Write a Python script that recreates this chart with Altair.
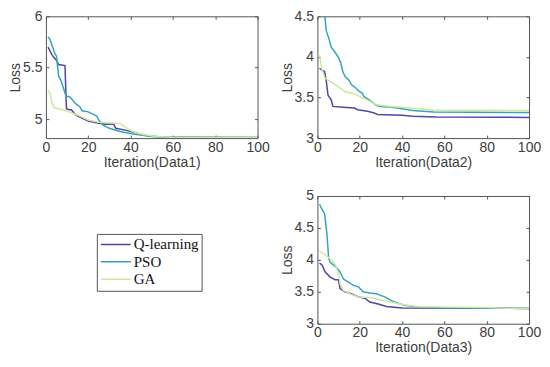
import altair as alt
import pandas as pd

methods = ["Q-learning", "PSO", "GA"]
colors = ["#5046a6", "#35a6b8", "#cfe8a0"]

# ---- Data1 ----
d1_q_it = [1, 3, 5, 6, 9, 9.7, 11, 12, 14, 16, 20, 25, 28, 32, 33, 38, 42, 45, 49, 55, 65, 100]
d1_q_v = [5.70, 5.62, 5.57, 5.53, 5.52, 5.10, 5.09, 5.09, 5.04, 5.02, 4.98, 4.96, 4.95, 4.95, 4.91, 4.89, 4.87, 4.85, 4.835, 4.826, 4.822, 4.82]
d1_p_it = [1, 2, 4, 5, 6, 7, 8, 9.5, 11, 12, 14, 16, 17, 20, 22, 24, 25, 27, 30, 35, 40, 43, 50, 60, 100]
d1_p_v = [5.80, 5.77, 5.65, 5.61, 5.42, 5.38, 5.32, 5.22, 5.22, 5.20, 5.15, 5.12, 5.08, 5.07, 5.05, 5.03, 4.99, 4.94, 4.91, 4.88, 4.86, 4.85, 4.83, 4.822, 4.82]
d1_g_it = [1, 2, 3, 4, 8, 12, 16, 20, 25, 30, 35, 37, 39, 42, 46, 52, 60, 100]
d1_g_v = [5.28, 5.25, 5.15, 5.11, 5.09, 5.06, 5.03, 4.99, 4.97, 4.965, 4.955, 4.93, 4.90, 4.87, 4.85, 4.83, 4.822, 4.82]

# ---- Data2 ----
d2_q_it = [1, 2, 3.4, 4.2, 5, 6.5, 7.3, 12, 17.5, 19, 23.7, 26.8, 28.3, 40, 45, 56, 100]
d2_q_v = [3.86, 3.84, 3.82, 3.70, 3.53, 3.47, 3.39, 3.38, 3.37, 3.35, 3.33, 3.31, 3.29, 3.28, 3.27, 3.26, 3.255]
d2_p_it = [1, 3.5, 4.2, 5.5, 6.5, 8, 10, 11, 12, 13, 15, 16, 18, 20, 21, 22, 24, 26, 28, 30, 35, 40, 45, 50, 55, 100]
d2_p_v = [4.5, 4.5, 4.32, 4.22, 4.12, 4.07, 3.99, 3.93, 3.82, 3.76, 3.71, 3.66, 3.62, 3.57, 3.56, 3.51, 3.48, 3.44, 3.40, 3.39, 3.38, 3.36, 3.34, 3.33, 3.32, 3.315]
d2_g_it = [1, 2, 3.5, 6, 10, 13, 17, 22, 25, 28, 34, 40, 48, 55, 100]
d2_g_v = [4.02, 3.86, 3.74, 3.70, 3.63, 3.57, 3.55, 3.49, 3.45, 3.41, 3.39, 3.38, 3.36, 3.345, 3.34]

# ---- Data3 ----
d3_q_it = [1, 2.2, 3.7, 6, 8.4, 9.9, 10.7, 13, 16, 19.3, 22.4, 24.8, 28.7, 32.6, 40, 100]
d3_q_v = [3.95, 3.92, 3.81, 3.73, 3.69, 3.69, 3.55, 3.50, 3.47, 3.42, 3.40, 3.34, 3.31, 3.27, 3.245, 3.24]
d3_p_it = [1, 2, 3.4, 4.5, 5.3, 6, 9, 10.7, 12.3, 14.6, 17, 19.3, 21.6, 24.8, 27.9, 31.8, 35.7, 41, 48, 60, 100]
d3_p_v = [4.87, 4.80, 4.72, 4.40, 4.03, 3.96, 3.88, 3.81, 3.70, 3.65, 3.60, 3.58, 3.50, 3.48, 3.47, 3.42, 3.35, 3.29, 3.26, 3.25, 3.24]
d3_g_it = [1, 3.7, 6.9, 8.4, 10, 10.7, 12.3, 16, 19.3, 25, 30, 40, 48, 60, 80, 85, 100]
d3_g_v = [4.14, 4.08, 3.99, 3.93, 3.78, 3.62, 3.52, 3.46, 3.42, 3.41, 3.37, 3.30, 3.265, 3.26, 3.255, 3.245, 3.24]

x_ticks = [0, 20, 40, 60, 80, 100]
y1_ticks = [5, 5.5, 6]
y2_ticks = [3, 3.5, 4, 4.5]
y3_ticks = [3, 3.5, 4, 4.5, 5]


def frame(series):
    rows = []
    for m, its, vs in series:
        for x, y in zip(its, vs):
            rows.append({"method": m, "iter": x, "loss": y})
    return pd.DataFrame(rows)


W = 212
AX = "#555555"
TXT = "#404040"
FONT = "Liberation Sans"

txt_style = dict(labelFont=FONT, labelFontSize=14, labelColor=TXT,
                 titleFont=FONT, titleFontSize=14, titleColor=TXT,
                 titleFontWeight="normal", labelFlush=False)


def panel(df, name, ydom, yticks, h):
    xs = alt.Scale(domain=[0, 100], nice=False)
    ys = alt.Scale(domain=ydom, nice=False, zero=False)
    base = alt.Chart(df)
    lines = base.mark_line(strokeWidth=1.5, clip=True).encode(
        x=alt.X("iter:Q", scale=xs,
                axis=alt.Axis(values=x_ticks, title=name, ticks=False, domain=False,
                              grid=False, labelPadding=2, titlePadding=1, format="d",
                              **txt_style)),
        y=alt.Y("loss:Q", scale=ys,
                axis=alt.Axis(values=yticks, title="Loss", ticks=False, domain=False,
                              grid=False, labelPadding=4, titlePadding=0, format=".1~f",
                              **txt_style)),
        color=alt.Color("method:N", scale=alt.Scale(domain=methods, range=colors),
                        legend=alt.Legend(title=None)),
    )
    tx = dict(labels=False, domain=False, grid=False, title=None, ticks=True,
              tickSize=3, tickColor=AX, values=x_ticks)
    ty = dict(labels=False, domain=False, grid=False, title=None, ticks=True,
              tickSize=3, tickColor=AX, values=yticks)
    t1 = base.mark_line(opacity=0).encode(
        x=alt.X("iter:Q", scale=xs, axis=alt.Axis(orient="top", offset=-h, **tx)),
        y=alt.Y("loss:Q", scale=ys, axis=alt.Axis(orient="right", offset=-W, **ty)),
        detail="method:N",
    )
    t2 = base.mark_line(opacity=0).encode(
        x=alt.X("iter:Q", scale=xs, axis=alt.Axis(orient="bottom", offset=-h, **tx)),
        y=alt.Y("loss:Q", scale=ys, axis=alt.Axis(orient="left", offset=-W, **ty)),
        detail="method:N",
    )
    return alt.layer(lines, t1, t2).resolve_axis(x="independent", y="independent").properties(
        width=W, height=h)


df1 = frame([("Q-learning", d1_q_it, d1_q_v), ("PSO", d1_p_it, d1_p_v), ("GA", d1_g_it, d1_g_v)])
df2 = frame([("Q-learning", d2_q_it, d2_q_v), ("PSO", d2_p_it, d2_p_v), ("GA", d2_g_it, d2_g_v)])
df3 = frame([("Q-learning", d3_q_it, d3_q_v), ("PSO", d3_p_it, d3_p_v), ("GA", d3_g_it, d3_g_v)])

p1 = panel(df1, "Iteration(Data1)", [4.815, 6], y1_ticks, 122)
p2 = panel(df2, "Iteration(Data2)", [3, 4.5], y2_ticks, 122)
p3 = panel(df3, "Iteration(Data3)", [3, 5], y3_ticks, 128)

blank = alt.Chart(pd.DataFrame({"v": [0]})).mark_point(opacity=0).encode(
    x=alt.X("v:Q", axis=None), y=alt.Y("v:Q", axis=None)
).properties(width=W, height=128, view=alt.ViewBackground(stroke=None))

chart = alt.concat(p1, p2, blank, p3, columns=2,
                   spacing={"row": 58, "column": 60}).properties(
    bounds="flush",
    padding={"left": 0, "top": 0, "right": 0, "bottom": 0},
).configure_view(
    stroke=AX, strokeWidth=1
).configure_legend(
    orient="none", legendX=51, legendY=218,
    strokeColor=AX, fillColor="white", padding=3,
    labelFont="Liberation Serif", labelFontSize=15, labelColor="#111111",
    symbolType="stroke", symbolStrokeWidth=1.5, symbolSize=900,
    clipHeight=15, rowPadding=1.5, labelOffset=2, columnPadding=0,
)

chart.save("out.html", embed_options={"renderer": "svg", "actions": False})
